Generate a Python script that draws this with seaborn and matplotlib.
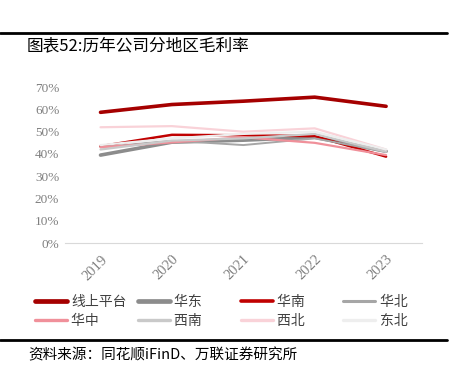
import pandas as pd
import matplotlib.pyplot as plt
import seaborn as sns
from matplotlib.lines import Line2D

# data (gross margin, %)
years = [2019, 2020, 2021, 2022, 2023]
regions = ['线上平台', '华东', '华南', '华北', '华中', '西南', '西北', '东北']
online = [58.7, 62.2, 63.7, 65.5, 61.4]
east = [39.5, 45.3, 46.2, 47.5, 41.2]
south = [43.5, 48.6, 48.4, 48.0, 38.8]
north = [43.0, 46.0, 44.0, 47.0, 41.0]
central = [43.0, 45.2, 47.5, 45.0, 39.5]
southwest = [42.0, 46.0, 47.0, 49.0, 41.0]
northwest = [52.0, 52.5, 50.0, 51.5, 42.0]
northeast = [44.0, 47.0, 49.0, 50.0, 42.0]
series = [online, east, south, north, central, southwest, northwest, northeast]

colors = ['#A50000', '#8C8C8C', '#C00000', '#A6A6A6', '#F0909A', '#C9C9C9', '#F9D2D8', '#EEEEEE']
widths = [2.6, 2.6, 1.8, 1.4, 1.6, 1.6, 1.6, 1.6]

df = pd.DataFrame({'year': years * len(regions),
                   'region': [r for r in regions for _ in years],
                   'value': [v for s in series for v in s]})

sns.set_style('white')
plt.rcParams['font.family'] = ['Noto Sans CJK SC', 'DejaVu Sans']

fig = plt.figure(figsize=(4.63, 3.74), dpi=100)
ax = fig.add_axes([0.140, 0.350, 0.771, 0.417])

for reg, c, lw in zip(regions, colors, widths):
    sns.lineplot(data=df[df.region == reg], x='year', y='value', color=c,
                 linewidth=lw, ax=ax, legend=False)

ax.set_xlim(years[0] - 0.5, years[-1] + 0.5)
ax.set_ylim(0, 70)
ax.set_yticks(range(0, 71, 10))
ax.set_yticklabels([f'{v}%' for v in range(0, 71, 10)], family='Liberation Serif',
                   fontsize=9.5, color='#7F7F7F')
ax.set_xticks(years)
ax.set_xticklabels([str(y) for y in years], family='Liberation Serif', fontsize=10.5,
                   color='#7F7F7F', rotation=45, ha='right', rotation_mode='anchor')
ax.set_xticks([y + 0.5 for y in [years[0] - 1] + years], minor=True)
ax.tick_params(axis='x', which='major', length=0, pad=7)
ax.tick_params(axis='x', which='minor', length=4, color='#D9D9D9', direction='out')
ax.tick_params(axis='y', length=0, pad=4)
ax.set_xlabel('')
ax.set_ylabel('')
for s in ['top', 'right', 'left']:
    ax.spines[s].set_visible(False)
ax.spines['bottom'].set_color('#D9D9D9')

# legend filled row by row, equal-width columns (pad short labels)
handles = [Line2D([0], [0], color=c, lw=lw + 0.8) for c, lw in zip(colors, widths)]
labels = [r if len(r) == 4 else r + '\u3000\u3000' for r in regions]
order = [0, 4, 1, 5, 2, 6, 3, 7]
fig.legend([handles[i] for i in order], [labels[i] for i in order], ncol=4, loc='center',
           bbox_to_anchor=(0.508, 0.168), frameon=False, fontsize=10, handlelength=2.3,
           columnspacing=0.8, handletextpad=0.3, labelspacing=0.35, labelcolor='#404040')

# header / footer rules and texts
fig.add_artist(Line2D([0, 0.965], [0.912, 0.912], color='black', lw=2))
fig.add_artist(Line2D([0, 0.965], [0.09, 0.09], color='black', lw=2))
fig.text(0.058, 0.878, '图表52:历年公司分地区毛利率', fontsize=12, va='center', color='black')
fig.text(0.062, 0.050, '资料来源：同花顺iFinD、万联证券研究所', fontsize=10.5, va='center',
         color='black', style='italic')

fig.savefig('out.png', dpi=100)
